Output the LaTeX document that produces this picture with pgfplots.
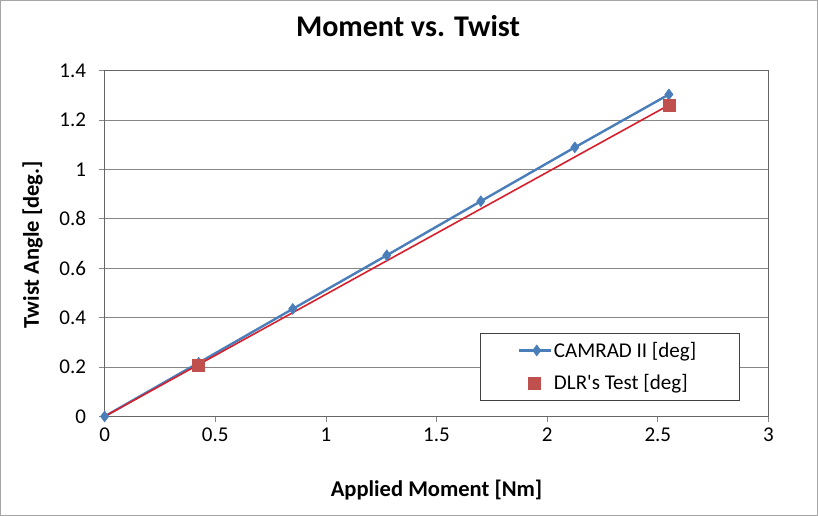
\documentclass[border=0pt]{standalone}
\usepackage{fontspec}
\setmainfont{Carlito}
\usepackage{pgfplots}
\pgfplotsset{compat=1.18}

\definecolor{camblue}{RGB}{74,126,187}
\definecolor{dlrred}{RGB}{192,80,77}
\definecolor{trendred}{RGB}{214,32,44}
\definecolor{gridgray}{RGB}{134,134,134}

\pgfplotsset{
    camleg/.style={legend image code/.code={\path (0pt,0pt) (66pt,0pt);
        \draw[mark repeat=2, mark phase=2, ##1]
        plot coordinates {(34pt,0pt) (52pt,0pt) (66pt,0pt)};}},
    dlrleg/.style={legend image code/.code={\path (0pt,0pt) (66pt,0pt);
        \draw[mark repeat=2, mark phase=2, ##1]
        plot coordinates {(34pt,0pt) (50pt,0pt) (66pt,0pt)};}},
}

\begin{document}
\begin{tikzpicture}[x=1pt,y=1pt]
\begin{axis}[
    scale only axis,
    width=663pt,
    height=345.5pt,
    xmin=0, xmax=3,
    ymin=0, ymax=1.4,
    xtick distance=0.5,
    ytick distance=0.2,
    xtick pos=bottom,
    ytick pos=left,
    tick align=outside,
    major tick length=6pt,
    tick style={gridgray, line width=0.8pt},
    ymajorgrids,
    grid style={gridgray, line width=0.8pt},
    axis line style={gray!80!black, line width=0.8pt},
    /pgf/number format/fixed,
    /pgf/number format/assume math mode=true,
    ticklabel style={font=\fontsize{21}{24}\selectfont},
    xticklabel style={yshift=-2pt},
    yticklabel style={xshift=-9pt},
    title={Moment vs. Twist},
    title style={at={(0.457,1.11)}, anchor=center, font=\fontsize{30}{34}\selectfont\bfseries},
    xlabel={Applied Moment [Nm]},
    xlabel style={at={(0.5,-0.213)}, anchor=center, font=\fontsize{22.5}{26}\selectfont\bfseries},
    ylabel={Twist Angle [deg.]},
    ylabel style={at={(-0.1086,0.496)}, anchor=center, font=\fontsize{22.5}{26}\selectfont\bfseries},
    legend style={at={(0.5656,0.0449)}, anchor=south west, draw=black!75,
        line width=0.8pt, font=\fontsize{21}{24}\selectfont,
        inner xsep=3pt, inner ysep=7pt, row sep=12pt},
    legend cell align=left,
    clip=false,
]
\addplot[camblue, line width=2.4pt, mark=diamond*, mark size=5.5pt,
    mark options={solid, fill=camblue, line width=0.5pt}, camleg] coordinates {
(0,0)
(0.425,0.217)
(0.85,0.435)
(1.275,0.652)
(1.7,0.871)
(2.125,1.089)
(2.55,1.303)
};
\addlegendentry{\makebox[180pt][l]{CAMRAD II [deg]}}
\addplot[forget plot, trendred, line width=1.6pt] coordinates {
(0,0)
(2.55,1.26)
};
\addplot[only marks, mark=square*, mark size=6pt,
    mark options={fill=dlrred, draw=dlrred}, dlrleg] coordinates {
(0.425,0.208)
(2.55,1.26)
};
\addlegendentry{\makebox[180pt][l]{DLR\textquotesingle s Test [deg]}}
\draw[gray!70, line width=0.8pt] (rel axis cs:-0.157,-0.285) rectangle (rel axis cs:1.074,1.2026);
\end{axis}
\end{tikzpicture}
\end{document}
